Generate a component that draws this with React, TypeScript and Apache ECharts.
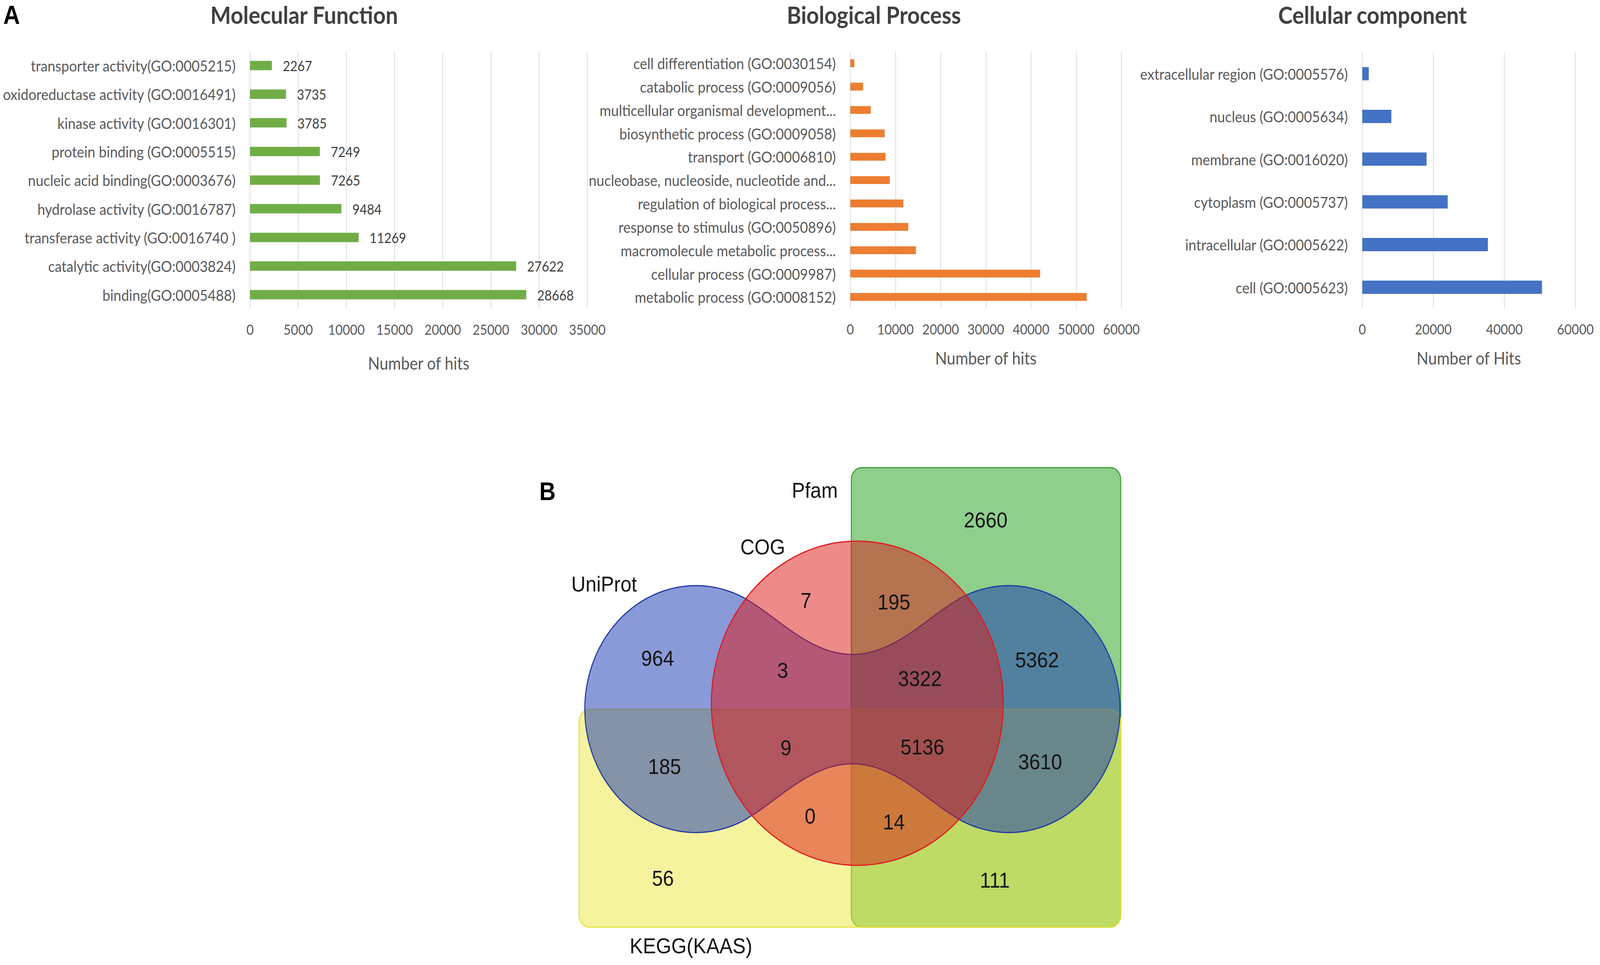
import React, { useEffect, useRef } from "react";
import * as echarts from "echarts";

// ---------- data ----------
const mfCategories = [
  "transporter activity(GO:0005215)",
  "oxidoreductase activity (GO:0016491)",
  "kinase activity (GO:0016301)",
  "protein binding (GO:0005515)",
  "nucleic acid binding(GO:0003676)",
  "hydrolase activity (GO:0016787)",
  "transferase activity (GO:0016740 )",
  "catalytic activity(GO:0003824)",
  "binding(GO:0005488)",
];
const mfValues = [2267, 3735, 3785, 7249, 7265, 9484, 11269, 27622, 28668];
const mfTicks = [0, 5000, 10000, 15000, 20000, 25000, 30000, 35000];

const bpCategories = [
  "cell differentiation (GO:0030154)",
  "catabolic process (GO:0009056)",
  "multicellular organismal development...",
  "biosynthetic process (GO:0009058)",
  "transport (GO:0006810)",
  "nucleobase, nucleoside, nucleotide and...",
  "regulation of biological process...",
  "response to stimulus (GO:0050896)",
  "macromolecule metabolic process...",
  "cellular process (GO:0009987)",
  "metabolic process (GO:0008152)",
];
const bpValues = [890, 2830, 4520, 7600, 7810, 8740, 11740, 12840, 14530, 42010, 52320];
const bpTicks = [0, 10000, 20000, 30000, 40000, 50000, 60000];

const ccCategories = [
  "extracellular region (GO:0005576)",
  "nucleus (GO:0005634)",
  "membrane (GO:0016020)",
  "cytoplasm (GO:0005737)",
  "intracellular (GO:0005622)",
  "cell (GO:0005623)",
];
const ccValues = [1820, 8180, 18090, 24050, 35360, 50590];
const ccTicks = [0, 20000, 40000, 60000];

const panelTitles = ["Molecular Function", "Biological Process", "Cellular component"];
const axisNames = ["Number of hits", "Number of hits", "Number of Hits"];
const panelLetters = ["A", "B"];

const vennSets = ["Pfam", "COG", "UniProt", "KEGG(KAAS)"];
const vennCounts = [2660, 7, 195, 964, 3, 3322, 5362, 9, 5136, 185, 3610, 0, 14, 56, 111];

// ---------- layout (Venn units = px offsets from the diagram centre) ----------
const vennCountPos = [
  [379, -484], [-132, -278], [118, -274], [-554, -130], [-198, -99], [192, -78],
  [525, -126], [-189, 99], [199, 97], [-534, 147], [534, 135], [-120, 274],
  [118, 289], [-539, 433], [405, 438],
];
const vennSetPos = [[-107, -560], [-255, -415], [-706, -320], [-459, 606]];

const W0 = 4550;
const H0 = 2470;
const FONT = "Lato";
const LABEL_COLOR = "#595959";

function bez(p0: number[], p1: number[], p2: number[], p3: number[], n: number) {
  const out: number[][] = [];
  for (let i = 0; i <= n; i++) {
    const t = i / n, u = 1 - t;
    out.push([
      u * u * u * p0[0] + 3 * u * u * t * p1[0] + 3 * u * t * t * p2[0] + t * t * t * p3[0],
      u * u * u * p0[1] + 3 * u * u * t * p1[1] + 3 * u * t * t * p2[1] + t * t * t * p3[1],
    ]);
  }
  return out;
}
function arcPts(cx: number, cy: number, r: number, a0: number, a1: number, n: number) {
  const out: number[][] = [];
  for (let i = 0; i <= n; i++) {
    const a = ((a0 + (a1 - a0) * (i / n)) * Math.PI) / 180;
    out.push([cx + r * Math.cos(a), cy + r * Math.sin(a)]);
  }
  return out;
}
function peanut() {
  const L = 445, R = 316, JX = 300, JY = 280, W = 140;
  const ang = (Math.atan2(JY, L - JX) * 180) / Math.PI; // ~62.6
  let pts: number[][] = [];
  pts = pts.concat(bez([-JX, -JY], [-211, -234], [-120, -W], [0, -W], 30));
  pts = pts.concat(bez([0, -W], [120, -W], [211, -234], [JX, -JY], 30));
  pts = pts.concat(arcPts(L, 0, R, -(180 - ang), 180 - ang, 90));
  pts = pts.concat(bez([JX, JY], [211, 234], [120, W], [0, W], 30));
  pts = pts.concat(bez([0, W], [-120, W], [-211, 234], [-JX, JY], 30));
  pts = pts.concat(arcPts(-L, 0, R, ang, 360 - ang, 90));
  return pts;
}

export default function App() {
  const ref = useRef<HTMLDivElement>(null);
  const vw = typeof window !== "undefined" && window.innerWidth ? window.innerWidth : W0;
  const vh = typeof window !== "undefined" && window.innerHeight ? window.innerHeight : H0;
  const sx = vw / W0;
  const sy = vh / H0;

  useEffect(() => {
    document.body.style.margin = "0";
    document.body.style.overflow = "hidden";
    if (!ref.current) return;
    const chart = echarts.init(ref.current, null, { renderer: "svg" });

    const panels = [
      { cats: mfCategories, vals: mfValues, ticks: mfTicks, color: "#70AD47",
        grid: { left: 711, top: 131, width: 959, height: 660 }, barWidth: 24, label: true, nameGap: 116, titleX: 865 },
      { cats: bpCategories, vals: bpValues, ticks: bpTicks, color: "#ED7D31",
        grid: { left: 2418, top: 132, width: 771, height: 658 }, barWidth: 20, label: false, nameGap: 104, titleX: 2485 },
      { cats: ccCategories, vals: ccValues, ticks: ccTicks, color: "#4472C4",
        grid: { left: 3874, top: 134, width: 606, height: 656 }, barWidth: 34, label: false, nameGap: 104, titleX: 3903 },
    ];

    const grids: any[] = panels.map((p) => ({ ...p.grid, containLabel: false }));
    grids.push({ left: 1424, top: 1160, width: 2000, height: 1310 });

    const xAxes: any[] = panels.map((p, i) => ({
      type: "value",
      gridIndex: i,
      min: p.ticks[0],
      max: p.ticks[p.ticks.length - 1],
      interval: p.ticks[1] - p.ticks[0],
      axisLine: { show: false },
      axisTick: { show: false },
      splitLine: { show: true, lineStyle: { color: "#d9d9d9", width: 2 } },
      axisLabel: { fontSize: 36, color: LABEL_COLOR, fontFamily: FONT, margin: 34, formatter: (v: number) => String(v) },
      name: axisNames[i],
      nameLocation: "middle",
      nameGap: p.nameGap,
      nameTextStyle: { fontSize: 44, color: LABEL_COLOR, fontFamily: FONT },
    }));
    xAxes.push({ type: "value", gridIndex: 3, min: -1000, max: 1000, show: false });

    const yAxes: any[] = panels.map((p, i) => ({
      type: "category",
      gridIndex: i,
      inverse: true,
      data: p.cats,
      axisLine: { show: false },
      axisTick: { show: false },
      splitLine: { show: false },
      axisLabel: { fontSize: 39.5, color: LABEL_COLOR, fontFamily: FONT, margin: 41 },
    }));
    yAxes.push({ type: "value", gridIndex: 3, min: -655, max: 655, inverse: true, show: false });

    const series: any[] = panels.map((p, i) => ({
      type: "bar",
      xAxisIndex: i,
      yAxisIndex: i,
      data: p.vals,
      barWidth: p.barWidth,
      itemStyle: { color: p.color },
      label: p.label
        ? { show: true, position: "right", distance: 31, fontSize: 36, color: "#404040", fontFamily: FONT,
            formatter: (q: any) => String(q.value) }
        : { show: false },
    }));

    const blue = peanut();
    series.push({
      type: "custom",
      xAxisIndex: 3,
      yAxisIndex: 3,
      clip: false,
      silent: true,
      data: [[0, 0]],
      renderItem: (_params: any, api: any) => {
        const c = (x: number, y: number) => api.coord([x, y]);
        const rect = (x0: number, y0: number, x1: number, y1: number, r: number) => {
          const a = c(x0, y0), b = c(x1, y1);
          return { x: Math.min(a[0], b[0]), y: Math.min(a[1], b[1]),
            width: Math.abs(b[0] - a[0]), height: Math.abs(b[1] - a[1]), r };
        };
        const cc = c(14, -15);
        const rr = c(14 + 415, -15)[0] - cc[0];
        return {
          type: "group",
          children: [
            { type: "rect", shape: rect(-3, -618, 763, 558, 30),
              style: { fill: "rgba(30,160,25,0.5)", stroke: "#3f9f35", lineWidth: 3 } },
            { type: "rect", shape: rect(-777, 1, 763, 558, 30),
              style: { fill: "rgba(236,231,62,0.5)", stroke: "#e4e23c", lineWidth: 3 } },
            { type: "polygon", shape: { points: blue.map((p) => c(p[0], p[1])) },
              style: { fill: "rgba(22,52,178,0.5)", stroke: "#1f38a3", lineWidth: 3 } },
            { type: "circle", shape: { cx: cc[0], cy: cc[1], r: rr },
              style: { fill: "rgba(222,24,20,0.5)", stroke: "#e3141c", lineWidth: 3 } },
          ],
        };
      },
      z: 2,
    });

    series.push({
      type: "custom",
      xAxisIndex: 3,
      yAxisIndex: 3,
      clip: false,
      silent: true,
      data: vennCounts.map((v, i) => [vennCountPos[i][0], vennCountPos[i][1], v]),
      renderItem: (_params: any, api: any) => {
        const pt = api.coord([api.value(0), api.value(1)]);
        return {
          type: "text",
          x: pt[0],
          y: pt[1],
          style: { text: String(api.value(2)), fontSize: 56, fontFamily: "Liberation Sans",
            fill: "#141414", align: "center", verticalAlign: "middle" },
        };
      },
      z: 3,
    });

    series.push({
      type: "custom",
      xAxisIndex: 3,
      yAxisIndex: 3,
      clip: false,
      silent: true,
      data: vennSets.map((_s, i) => [vennSetPos[i][0], vennSetPos[i][1], i]),
      renderItem: (_params: any, api: any) => {
        const pt = api.coord([api.value(0), api.value(1)]);
        return {
          type: "text",
          x: pt[0],
          y: pt[1],
          style: { text: vennSets[api.value(2)], fontSize: 56, fontFamily: "Liberation Sans",
            fill: "#141414", align: "center", verticalAlign: "middle" },
        };
      },
      z: 3,
    });

    const graphics: any[] = panels.map((p, i) => ({
      type: "text",
      x: p.titleX,
      y: 37,
      style: { text: panelTitles[i], fontSize: 62, fontWeight: "bold", fontFamily: FONT, fill: "#404040",
        align: "center", verticalAlign: "middle" },
    }));
    graphics.push({
      type: "text", x: 33, y: 38,
      style: { text: panelLetters[0], fontSize: 66, fontWeight: "bold", fontFamily: "Liberation Sans", fill: "#000",
        align: "center", verticalAlign: "middle" },
    });
    graphics.push({
      type: "text", x: 1557, y: 1258,
      style: { text: panelLetters[1], fontSize: 64, fontWeight: "bold", fontFamily: "Liberation Sans", fill: "#000",
        align: "center", verticalAlign: "middle" },
    });

    chart.setOption({
      animation: false,
      backgroundColor: "#ffffff",
      textStyle: { fontFamily: FONT },
      grid: grids,
      xAxis: xAxes,
      yAxis: yAxes,
      series,
      graphic: graphics,
    });
    return () => chart.dispose();
  }, []);

  return (
    <div style={{ width: vw, height: vh, overflow: "hidden", position: "relative", background: "#fff" }}>
      <div
        ref={ref}
        style={{ width: W0, height: H0, transform: `scale(${sx}, ${sy})`, transformOrigin: "0 0", position: "absolute", left: 0, top: 0 }}
      />
    </div>
  );
}
